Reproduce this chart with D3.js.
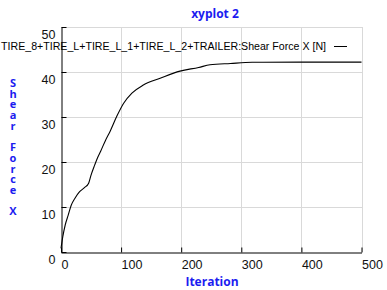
<!DOCTYPE html>
<html><head><meta charset="utf-8">
<script src="https://cdn.jsdelivr.net/npm/d3@7"></script>
<style>body{margin:0;background:#fff;} svg{display:block;}</style>
</head><body>
<script>
const iterations = [0,3,7,12,17,23,31,39,46,50,56,61,66,74,82,93,104,118,137,165,198,229,248,282,318,400,500];
const shearForceX = [0.8,3.4,6,8.2,10.4,11.9,13.4,14.3,15.3,17.1,19.3,21.0,22.4,24.8,26.9,30.2,33,35.3,37.1,38.6,40.2,41.0,41.6,41.9,42.15,42.2,42.2];
const xTicks = [0,100,200,300,400,500];
const yTicks = [0,10,20,30,40,50];
const title = "xyplot 2";
const xLabel = "Iteration";
const yLabel = "Shear Force X";
const legendLabel = "TIRE_8+TIRE_L+TIRE_L_1+TIRE_L_2+TRAILER:Shear Force X [N]";

const W = 387, H = 290;
const font = "'Liberation Sans', Arial, sans-serif";
const boldFont = "'Open Sans', 'Noto Sans', sans-serif";
const blue = "#1c1cf0";
const svg = d3.select("body").append("svg").attr("width", W).attr("height", H)
  .style("font-family", font);

const x = d3.scaleLinear().domain([0,500]).range([61,361.5]);
const y = d3.scaleLinear().domain([0,50]).range([252,27]);

// grid
const g = svg.append("g");
g.selectAll(".vg").data(xTicks.filter(d=>d>0)).join("line")
  .attr("x1", d=>Math.round(x(d))+0.5).attr("x2", d=>Math.round(x(d))+0.5)
  .attr("y1", y(50)).attr("y2", y(0)).attr("stroke", "#d9d9d9");
g.selectAll(".hg").data(yTicks.filter(d=>d>0)).join("line")
  .attr("x1", x(0)).attr("x2", Math.round(x(500))+0.5)
  .attr("y1", d=>Math.round(y(d))+0.5).attr("y2", d=>Math.round(y(d))+0.5).attr("stroke", "#d9d9d9");

// axes
const xAxis = d3.axisBottom(x).tickValues(xTicks).tickSizeInner(-5).tickSizeOuter(0).tickPadding(8);
const xa = svg.append("g").attr("transform", `translate(0,${y(0)+0.5})`).call(xAxis);
xa.select(".domain").attr("stroke", "#000");
xa.selectAll(".tick line").attr("stroke", "#000");
xa.selectAll(".tick text").attr("text-anchor", "start").attr("dx", 0)
  .attr("font-size", 12.5).attr("font-family", font).attr("fill", "#111");

const yAxis = d3.axisLeft(y).tickValues(yTicks).tickSizeInner(-5).tickSizeOuter(0).tickPadding(6);
const ya = svg.append("g").attr("transform", `translate(${x(0)+0.5},0)`).call(yAxis);
ya.select(".domain").attr("stroke", "#000");
ya.selectAll(".tick line").attr("stroke", "#000");
ya.selectAll(".tick text").attr("dy", "0.95em")
  .attr("font-size", 12.5).attr("font-family", font).attr("fill", "#111");

// line
const data = iterations.map((d,i)=>[d, shearForceX[i]]);
svg.append("path").datum(data)
  .attr("d", d3.line().x(d=>x(d[0])).y(d=>y(d[1])).curve(d3.curveMonotoneX))
  .attr("fill", "none").attr("stroke", "#000").attr("stroke-width", 1.1);

// title
svg.append("text").attr("x", 215).attr("y", 18).attr("text-anchor", "middle")
  .attr("font-family", boldFont)
  .attr("font-size", 12).attr("font-weight", "bold").attr("fill", blue).text(title);
svg.append("text").attr("x", 212).attr("y", 286).attr("text-anchor", "middle")
  .attr("font-family", boldFont)
  .attr("font-size", 12).attr("font-weight", "bold").attr("fill", blue).text(xLabel);

// y label stacked
const chars = yLabel.split("");
svg.append("g").selectAll("text").data(chars).join("text")
  .attr("x", 13).attr("y", (d,i)=>87 + i*10.7).attr("text-anchor", "middle")
  .attr("font-family", boldFont)
  .attr("font-size", 11).attr("font-weight", "bold").attr("fill", blue).text(d=>d);

// legend
const lt = svg.append("text").attr("x", 326).attr("y", 50).attr("text-anchor", "end")
  .attr("font-size", 12.5).attr("fill", "#000").text(legendLabel);
const len = lt.node().getComputedTextLength();
if (len > 325) lt.attr("font-size", 12.5 * 325 / len);
svg.append("line").attr("x1", 334).attr("x2", 347).attr("y1", 46.5).attr("y2", 46.5)
  .attr("stroke", "#000");
</script>
</body></html>
